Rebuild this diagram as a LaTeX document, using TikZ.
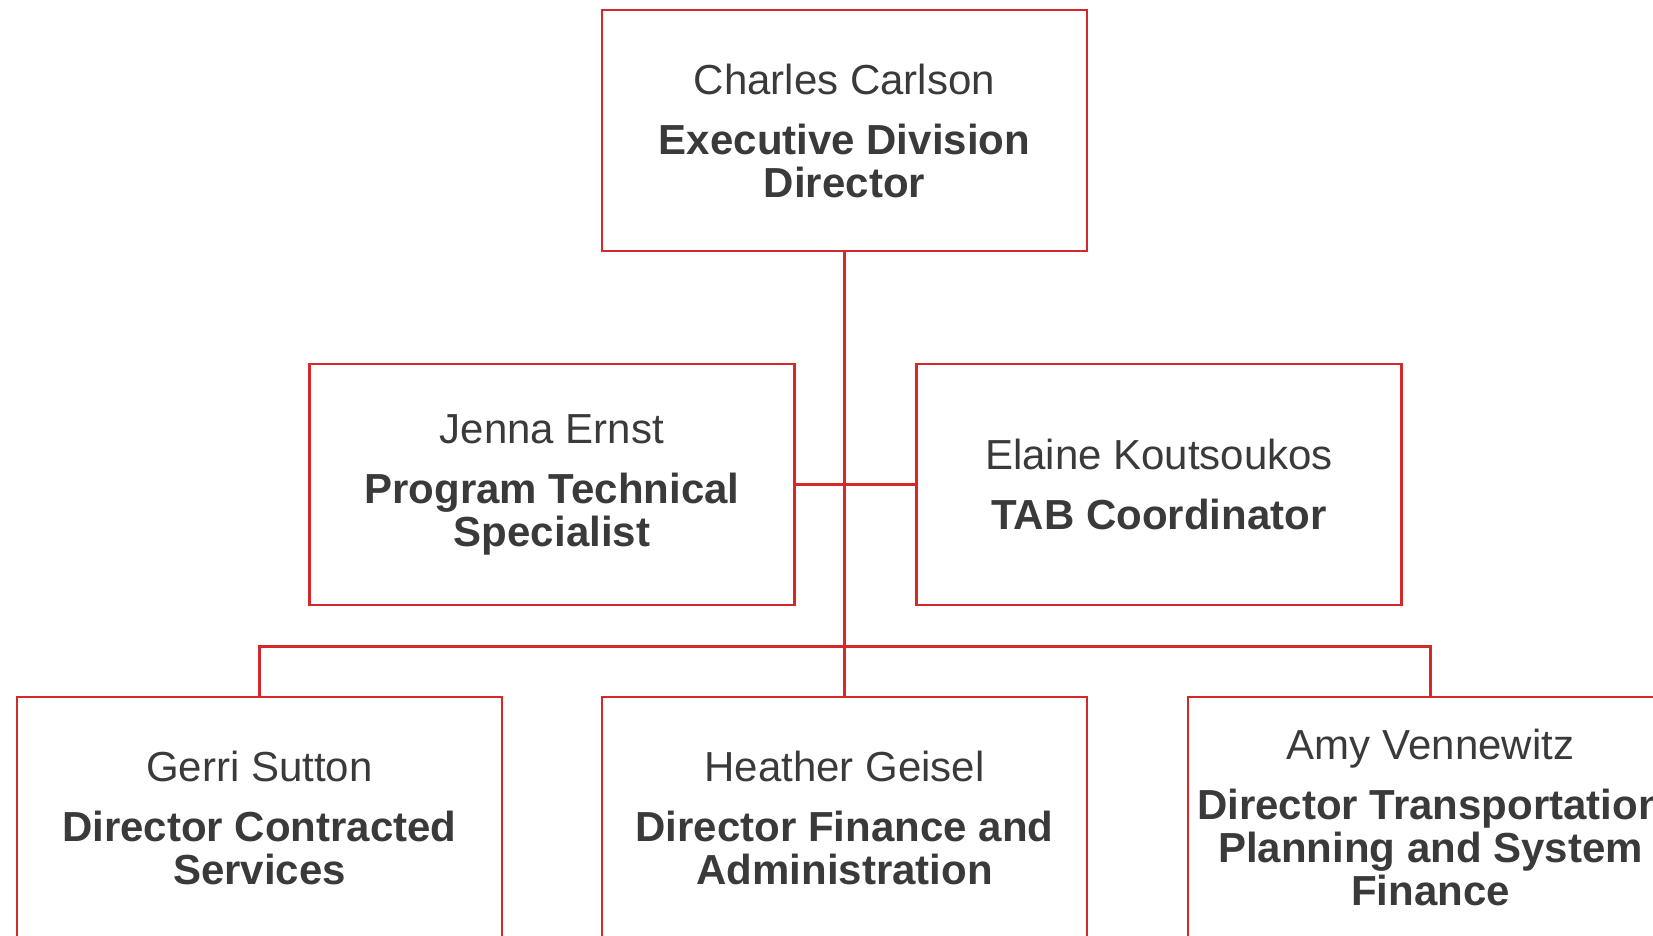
\documentclass[tikz,border=0pt]{standalone}
\usepackage{fontspec}
\setmainfont{Liberation Sans}
\usepackage{xcolor}
\usepackage{tikz}
\usetikzlibrary{positioning}
\definecolor{orgred}{RGB}{214,40,40}
\definecolor{orgtext}{RGB}{58,58,58}
\newcommand{\job}[1]{{\bfseries #1}}

\begin{document}
\begin{tikzpicture}[x=1pt,y=1pt,
	post/.style={draw=orgred,line width=2.5pt,minimum width=485pt,minimum height=241pt,
		inner sep=0pt,align=center,text=orgtext,font=\fontsize{42}{43}\selectfont},
	link/.style={draw=orgred,line width=2.5pt}]
\useasboundingbox (0,0) rectangle (1653,935);
\node[post](ceo) at (844.5,804.5) {Charles Carlson\\[17pt]\job{Executive Division}\\\job{Director}};
\node[post](pts)[xshift=-292.5pt,yshift=-354pt] at (ceo) {Jenna Ernst\\[17pt]\job{Program Technical}\\\job{Specialist}};
\node[post](tab)[xshift=314.5pt,yshift=-354pt] at (ceo) {Elaine Koutsoukos\\[17pt]\job{TAB Coordinator}};

\node[post](dcs)[xshift=-585pt,yshift=-687pt] at (ceo) {Gerri Sutton\\[17pt]\job{Director Contracted}\\\job{Services}};
\node[post](dfa)[yshift=-687pt] at (ceo) {Heather Geisel\\[17pt]\job{Director Finance and}\\\job{Administration}};
\node[post](dtp)[xshift=586pt,yshift=-687pt] at (ceo) {Amy Vennewitz\\[17pt]\job{Director Transportation}\\\job{Planning and System}\\\job{Finance}};
\coordinate[yshift=-516pt] (bus) at (ceo);

\draw[link] (ceo.south) -- (dfa.north)
	(pts.east) -- (tab.west)
	(dcs.north) |- (bus) -| (dtp.north);
\end{tikzpicture}
\end{document}
